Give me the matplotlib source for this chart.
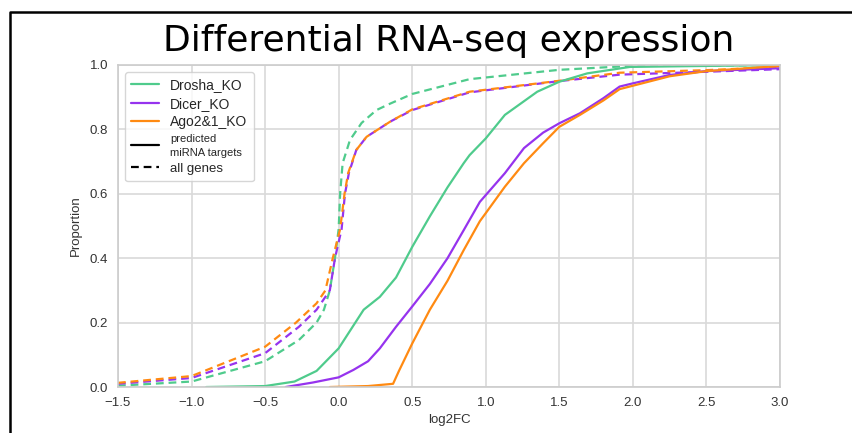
import numpy as np
import matplotlib
matplotlib.use("Agg")
import matplotlib.pyplot as plt
import seaborn as sns
from matplotlib.lines import Line2D

# ECDF curves (log2FC, cumulative proportion)
drosha_all_x = [-1.5, -1.0, -0.5, -0.27, -0.15, -0.1, -0.06, -0.025, 0.0, 0.01, 0.027,
                0.077, 0.156, 0.257, 0.35, 0.5, 0.89, 1.5, 1.98, 3.0]
drosha_all_y = [0.004, 0.017, 0.08, 0.146, 0.2, 0.24, 0.30, 0.4, 0.49, 0.6, 0.695,
                0.767, 0.82, 0.86, 0.88, 0.91, 0.956, 0.985, 0.997, 1.0]

dicer_all_x = [-1.5, -1.0, -0.5, -0.27, -0.15, -0.06, -0.025, 0.02, 0.043, 0.07, 0.12,
               0.19, 0.35, 0.5, 0.89, 1.5, 1.91, 2.5, 3.0]
dicer_all_y = [0.01, 0.028, 0.105, 0.187, 0.24, 0.30, 0.4, 0.49, 0.6, 0.665, 0.736,
               0.777, 0.824, 0.86, 0.915, 0.95, 0.97, 0.979, 0.987]

ago_all_x = [-1.5, -1.0, -0.5, -0.29, -0.15, -0.09, -0.04, 0.01, 0.04, 0.065, 0.12,
             0.19, 0.35, 0.5, 0.89, 1.5, 1.91, 2.5, 3.0]
ago_all_y = [0.013, 0.034, 0.125, 0.2, 0.26, 0.30, 0.4, 0.49, 0.6, 0.665, 0.736,
             0.777, 0.824, 0.862, 0.917, 0.951, 0.976, 0.984, 0.994]

drosha_tgt_x = [-0.9, -0.5, -0.3, -0.15, 0.0, 0.17, 0.28, 0.39, 0.5, 0.62, 0.74, 0.85,
                0.89, 1.0, 1.13, 1.35, 1.5, 1.69, 1.98, 3.0]
drosha_tgt_y = [0.0, 0.003, 0.017, 0.05, 0.12, 0.24, 0.28, 0.34, 0.435, 0.53, 0.62, 0.695,
                0.72, 0.772, 0.845, 0.917, 0.948, 0.974, 0.994, 1.0]

dicer_tgt_x = [-0.36, -0.175, 0.0, 0.1, 0.2, 0.28, 0.39, 0.5, 0.62, 0.74, 0.85, 0.96,
               1.0, 1.13, 1.26, 1.39, 1.5, 1.64, 1.8, 1.91, 2.0, 2.25, 2.5, 3.0]
dicer_tgt_y = [0.0, 0.014, 0.03, 0.053, 0.08, 0.12, 0.187, 0.25, 0.32, 0.40, 0.487, 0.575,
               0.596, 0.664, 0.742, 0.79, 0.819, 0.85, 0.897, 0.933, 0.943, 0.969, 0.981, 0.99]

ago_tgt_x = [-0.06, 0.2, 0.37, 0.41, 0.5, 0.62, 0.74, 0.85, 0.96, 1.0, 1.13, 1.26,
             1.39, 1.5, 1.64, 1.8, 1.91, 2.25, 2.5, 3.0]
ago_tgt_y = [0.0, 0.003, 0.01, 0.05, 0.135, 0.24, 0.33, 0.425, 0.515, 0.54, 0.622, 0.695,
             0.757, 0.808, 0.845, 0.89, 0.925, 0.965, 0.981, 0.997]

labels = ["Drosha_KO", "Dicer_KO", "Ago2&1_KO"]
colors = ["#4fcb8c", "#9633ee", "#ff8a12"]

sns.set_style("whitegrid")
plt.rcParams["font.family"] = ["Liberation Sans", "DejaVu Sans"]

fig = plt.figure(figsize=(8.53, 4.33), dpi=100)
ax = fig.add_axes([0.1383, 0.1062, 0.7761, 0.7437])

all_genes = [(drosha_all_x, drosha_all_y), (dicer_all_x, dicer_all_y), (ago_all_x, ago_all_y)]
targets = [(drosha_tgt_x, drosha_tgt_y), (dicer_tgt_x, dicer_tgt_y), (ago_tgt_x, ago_tgt_y)]

for (x, y), c in zip(all_genes, colors):
    ax.plot(x, y, color=c, lw=1.6, ls=(0, (3.5, 2.2)))
for (x, y), c in zip(targets, colors):
    ax.plot(x, y, color=c, lw=1.6)

ax.set_xlim(-1.5, 3.0)
ax.set_ylim(0, 1.0)
ax.set_xticks(np.arange(-1.5, 3.01, 0.5))
ax.set_yticks(np.arange(0, 1.01, 0.2))
ax.tick_params(labelsize=9.5, colors="#333333")
ax.set_xlabel("log2FC", fontsize=9.5, color="#333333", labelpad=4)
ax.set_ylabel("Proportion", fontsize=9.5, color="#333333", labelpad=6)
for s in ax.spines.values():
    s.set_color("#cccccc")
    s.set_linewidth(1.2)
ax.grid(color="#d9d9d9", lw=1.2)

ax.set_title("Differential RNA-seq expression", fontsize=26, family="DejaVu Sans",
             color="black", pad=10)

handles = [Line2D([], [], color=c, lw=1.6) for c in colors]
handles += [Line2D([], [], color="black", lw=1.6),
            Line2D([], [], color="black", lw=1.6, ls=(0, (3.5, 2.2)))]
leg = ax.legend(handles, labels + ["predicted\nmiRNA targets", "all genes"],
                loc="upper left", fontsize=10, frameon=True, borderpad=0.45,
                labelspacing=0.33, handlelength=2.0, bbox_to_anchor=(0.0, 1.0))
leg.get_texts()[3].set_fontsize(8)
leg.get_texts()[3].set_linespacing(1.5)
leg.get_texts()[4].set_fontsize(9.5)

# outer black frame from the screenshot
fx = 10 / 853
fy = 1 - 12 / 433
fig.add_artist(Line2D([fx, fx, 1.0], [0.0, fy, fy], transform=fig.transFigure,
                      color="black", lw=1.8))

fig.savefig("out.png", dpi=100)
